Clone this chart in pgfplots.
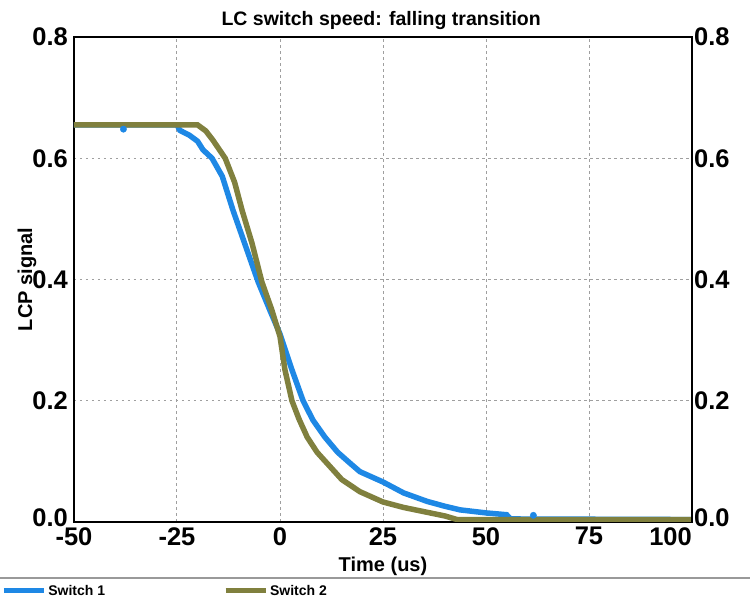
\documentclass[border=0pt]{standalone}
\usepackage{fontspec}
\setmainfont{Liberation Sans}
\usepackage{pgfplots}
\pgfplotsset{compat=1.18}
\definecolor{swone}{RGB}{30,136,229}
\definecolor{swtwo}{RGB}{128,128,62}

\begin{document}
\begin{tikzpicture}
\begin{axis}[name=main,scale only axis,width=618pt,height=485pt,
xmin=-50,xmax=100,ymin=0,ymax=0.8,
xtick={-50,-25,0,25,50,75},xticklabels={-50,-25,0,25,50,75},
extra x ticks={100},extra x tick labels={100},
extra x tick style={grid=none,xticklabel style={anchor=north east}},
ytick={0,0.2,0.4,0.6,0.8},yticklabels={\raisebox{8pt}{0.0},0.2,0.4,0.6,0.8},
major tick length=0pt,
grid=major,grid style={gray!75,line width=1pt,dash pattern=on 2.5pt off 3.5pt},
axis line style={line width=2.5pt,black},
tick label style={font=\fontsize{25.5}{28}\selectfont\bfseries},
xticklabel style={inner sep=0pt,yshift=-5pt},
yticklabel style={inner sep=0pt,xshift=-6pt},
title={LC switch speed: falling transition},
title style={at={(axis description cs:0.497,1.022)},anchor=center,font=\fontsize{19.5}{22}\selectfont\bfseries},
xlabel={Time (us)},
xlabel style={at={(axis description cs:0.5,-0.0907)},anchor=center,font=\fontsize{20}{22}\selectfont\bfseries},
ylabel={LCP signal},
ylabel style={at={(axis description cs:-0.076,0.5)},anchor=center,font=\fontsize{20}{22}\selectfont\bfseries},
legend columns=2,
legend style={at={(axis description cs:-0.118,-0.142)},anchor=west,draw=none,fill=none,inner sep=0pt,
  font=\fontsize{14}{16}\selectfont\bfseries,/tikz/every even column/.append style={column sep=116pt}},
legend image code/.code={\draw[#1,line width=5pt] (0pt,0pt) -- (40pt,0pt);}]
% Switch 1
\addplot[swone,line width=5.5pt] coordinates {
(-50,0.655) (-25,0.655) (-24.3,0.646)
(-22,0.638) (-20,0.628) (-18.7,0.614) (-16.5,0.6) (-14,0.57) (-11.4,0.514)
(-8.5,0.458) (-5.3,0.396) (-2.5,0.35) (0,0.31) (2.9,0.251) (5.6,0.2)
(8,0.168) (10.9,0.14) (14,0.115) (17,0.097) (19.4,0.083) (25,0.066)
(30,0.048) (35.7,0.034) (40,0.026) (43.7,0.02) (50,0.015) (55,0.012)
(56,0.005) (100,0.004)
};
\addlegendentry{Switch 1}
\addplot[only marks,mark=*,mark size=3.2pt,swone,forget plot] coordinates {(-38,0.648) (61.5,0.011)};
% Switch 2
\addplot[swtwo,line width=5.5pt] coordinates {
(-50,0.655) (-20,0.655) (-18,0.645) (-16.3,0.63) (-13.3,0.6) (-11,0.56)
(-9.2,0.514) (-6.8,0.46) (-4.4,0.396) (-2,0.35) (0,0.306) (1.2,0.251)
(2.9,0.2) (4.6,0.17) (6.6,0.14) (9,0.115) (11.4,0.097) (15,0.07)
(19.4,0.05) (25,0.033) (30,0.024) (35.7,0.016) (40,0.01) (43,0.004)
(100,0.004)
};
\addlegendentry{Switch 2}
\end{axis}
\begin{axis}[scale only axis,width=618pt,height=485pt,
xmin=-50,xmax=100,ymin=0,ymax=0.8,
hide x axis,axis y line*=right,
ytick={0,0.2,0.4,0.6,0.8},yticklabels={\raisebox{8pt}{0.0},0.2,0.4,0.6,0.8},
major tick length=0pt,
axis line style={line width=2.5pt,black},
tick label style={font=\fontsize{25.5}{28}\selectfont\bfseries},
yticklabel style={inner sep=0pt,anchor=west,xshift=2pt}]
\end{axis}
\draw[gray!80,line width=1.5pt] (main.south west) ++(-74pt,-56pt) -- ++(750pt,0pt);
\pgfresetboundingbox
\path[use as bounding box] (main.south west) ++(-74pt,-77pt) rectangle ++(750pt,599pt);
\end{tikzpicture}
\end{document}
